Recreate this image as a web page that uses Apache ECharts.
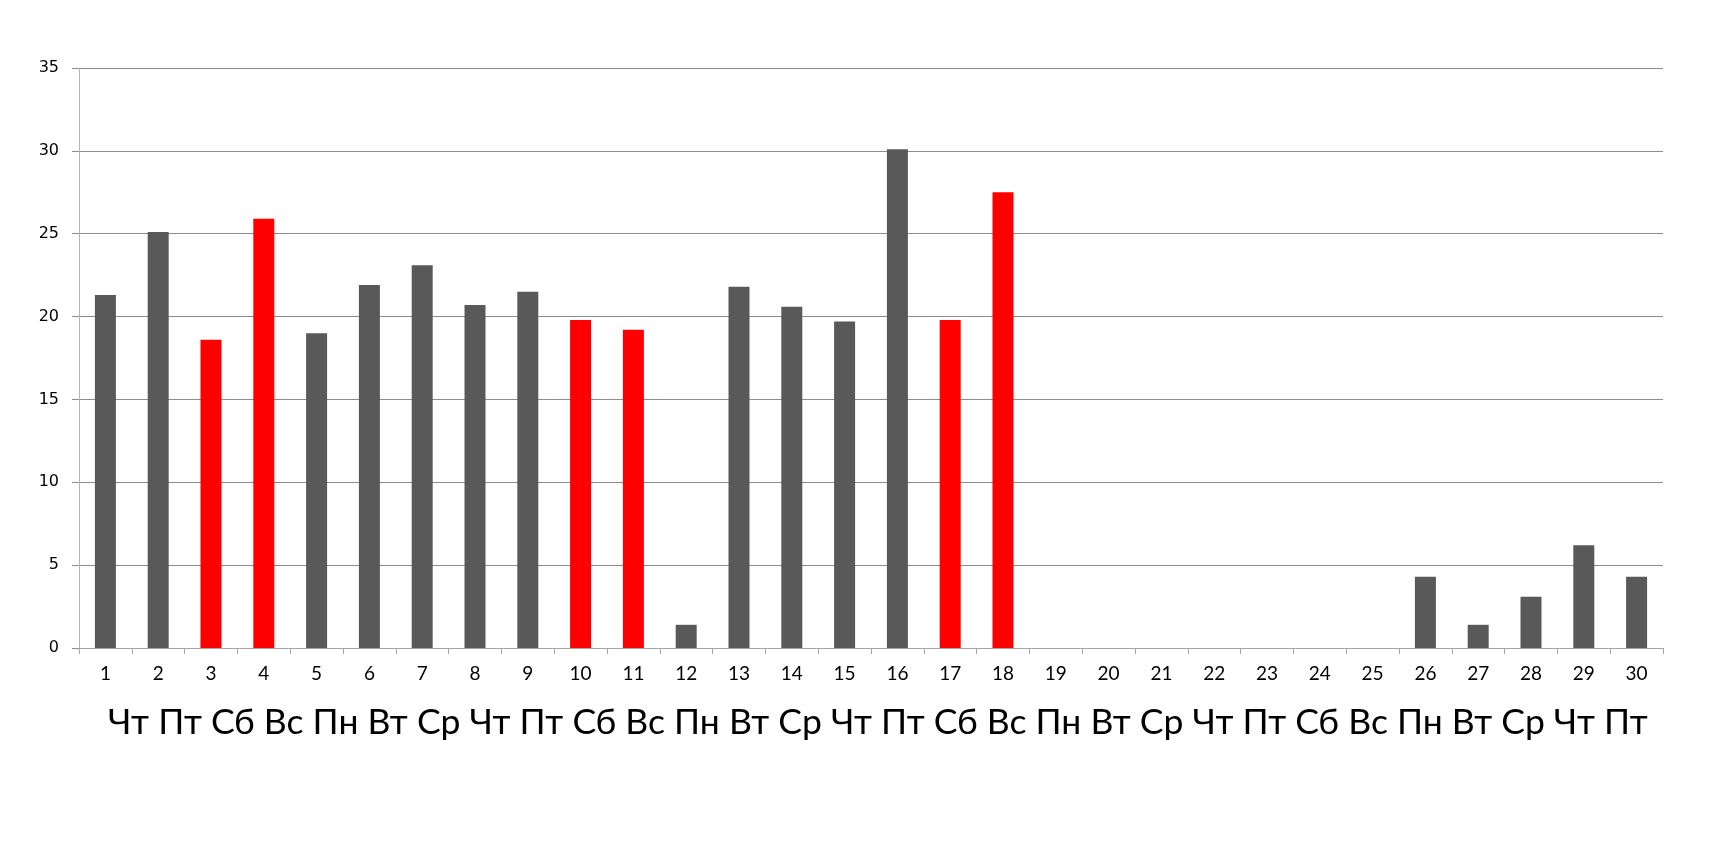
<!DOCTYPE html>
<html>
<head>
<meta charset="utf-8">
<script src="https://cdn.jsdelivr.net/npm/echarts@6/dist/echarts.min.js"></script>
<style>
  html, body { margin: 0; padding: 0; background: #fff; }
  #chart { width: 1720px; height: 843px; }
</style>
</head>
<body>
<div id="chart"></div>
<script>
// числа месяца
var days = ['1','2','3','4','5','6','7','8','9','10','11','12','13','14','15',
            '16','17','18','19','20','21','22','23','24','25','26','27','28','29','30'];
// дни недели
var weekdays = ['Чт','Пт','Сб','Вс','Пн','Вт','Ср','Чт','Пт','Сб','Вс','Пн','Вт','Ср','Чт',
                'Пт','Сб','Вс','Пн','Вт','Ср','Чт','Пт','Сб','Вс','Пн','Вт','Ср','Чт','Пт'];
var values = [21.3, 25.1, 18.6, 25.9, 19.0, 21.9, 23.1, 20.7, 21.5, 19.8,
              19.2, 1.4, 21.8, 20.6, 19.7, 30.1, 19.8, 27.5, 0, 0,
              0, 0, 0, 0, 0, 4.3, 1.4, 3.1, 6.2, 4.3];

var chart = echarts.init(document.getElementById('chart'));
window.addEventListener('resize', chart.resize);

var barData = values.map(function (v, i) {
    var weekend = weekdays[i] === 'Сб' || weekdays[i] === 'Вс';
    return { value: v, itemStyle: { color: weekend ? '#ff0000' : '#595959' } };
});

chart.setOption({
    backgroundColor: '#fff',
    animation: false,
    grid: {
        left: 79,
        right: 57,
        top: 68,
        bottom: 195
    },
    xAxis: {
        type: 'category',
        data: days,
        axisLine: { lineStyle: { color: '#a6a6a6', width: 1 } },
        axisTick: { show: true, length: 6, lineStyle: { color: '#a6a6a6' } },
        axisLabel: {
            margin: 16,
            color: '#000',
            fontFamily: 'Lato',
            fontSize: 19
        }
    },
    yAxis: {
        type: 'value',
        min: 0,
        max: 35,
        interval: 5,
        axisLine: { show: true, lineStyle: { color: '#b3b3b3' } },
        axisTick: { show: true, length: 7, lineStyle: { color: '#8c8c8c' } },
        splitLine: { lineStyle: { color: '#8c8c8c', width: 1 } },
        axisLabel: {
            margin: 20,
            color: '#000',
            fontFamily: 'DejaVu Sans',
            fontSize: 16
        }
    },
    series: [{
        type: 'bar',
        data: barData,
        barWidth: 21
    }],
    graphic: [{
        type: 'text',
        left: 108,
        top: 705,
        style: {
            text: weekdays.join(' '),
            fontFamily: 'Lato',
            fontSize: 35.5,
            fill: '#000'
        }
    }]
});
</script>
</body>
</html>
